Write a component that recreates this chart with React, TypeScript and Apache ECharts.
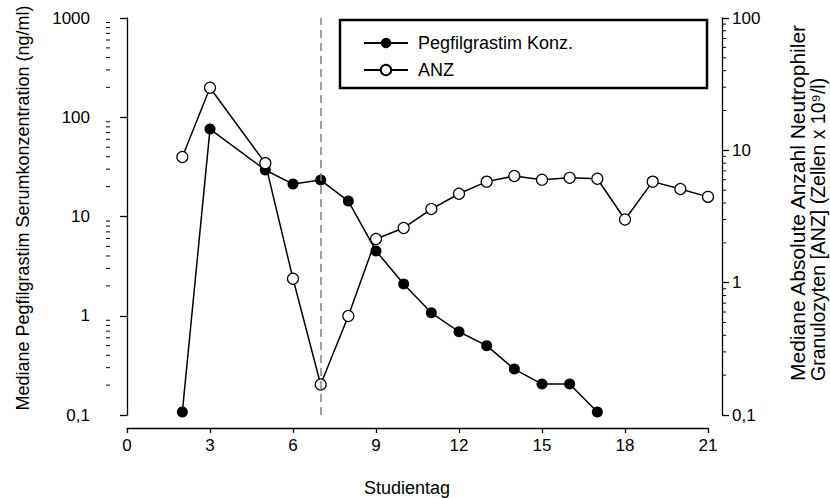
import React, { useEffect, useRef } from "react";
import * as echarts from "echarts";

// ---- data ----
const pegDays = [2, 3, 5, 6, 7, 8, 9, 10, 11, 12, 13, 14, 15, 16, 17];
const pegValues = [0.107, 76, 29.4, 21.2, 23.3, 14.3, 4.5, 2.09, 1.07, 0.69, 0.5, 0.29, 0.205, 0.205, 0.107];

const anzDays = [2, 3, 5, 6, 7, 8, 9, 10, 11, 12, 13, 14, 15, 16, 17, 18, 19, 20, 21];
const anzValues = [8.9, 29.7, 8.0, 1.07, 0.17, 0.56, 2.14, 2.59, 3.6, 4.7, 5.8, 6.4, 6.0, 6.2, 6.1, 3.0, 5.8, 5.1, 4.45];

const markerDay = 7;

const leftTickValues = [0.1, 1, 10, 100, 1000];
const leftTickLabels = ["0,1", "1", "10", "100", "1000"];
const rightTickValues = [0.1, 1, 10, 100];
const rightTickLabels = ["0,1", "1", "10", "100"];
const leftDecades = [0.1, 1, 10, 100];
const rightDecades = [0.1, 1, 10];
const minorMultipliers = [2, 3, 4, 5, 6, 7, 8, 9];

const seriesNames = ["Pegfilgrastim Konz.", "ANZ"];
const leftTitle = "Mediane Pegfilgrastim Serumkonzentration (ng/ml)";
const rightTitle1 = "Mediane Absolute Anzahl Neutrophiler";
const rightTitle2 = "Granulozyten [ANZ] (Zellen x 10\u2079/l)";
const xTitle = "Studientag";

const FONT = "'Liberation Sans', Arial, sans-serif";

function labelFor(values: number[], labels: string[]) {
  return (v: number) => {
    let best = 0;
    let bd = Infinity;
    values.forEach((t, i) => {
      const d = Math.abs(Math.log10(v) - Math.log10(t));
      if (d < bd) {
        bd = d;
        best = i;
      }
    });
    return labels[best];
  };
}

const minorOf = (decades: number[]) =>
  decades.flatMap((d) => minorMultipliers.map((m) => [0, +(d * m).toPrecision(3)]));

export default function App() {
  const ref = useRef<HTMLDivElement>(null);
  useEffect(() => {
    if (!ref.current) return;
    const chart = echarts.init(ref.current, undefined, { renderer: "svg" });
    const LEFT_OFF = 17;
    const RIGHT_OFF = 14;
    const legendBase = {
      orient: "vertical",
      left: 358,
      itemWidth: 44,
      itemHeight: 13,
      textStyle: { fontSize: 18, color: "#000", fontFamily: FONT, padding: [0, 0, 0, 5] },
      selectedMode: false,
    };
    const option: any = {
      animation: false,
      backgroundColor: "#fff",
      grid: { left: 127, right: 122, top: 18, bottom: 83 },
      legend: [
        { ...legendBase, data: [seriesNames[0]], top: 29 },
        { ...legendBase, data: [seriesNames[1]], top: 56 },
      ],
      xAxis: {
        type: "value",
        min: 0,
        max: 21,
        interval: 3,
        offset: 13,
        axisLine: { show: true, lineStyle: { color: "#000", width: 1.3 } },
        axisTick: { show: true, length: 5, lineStyle: { color: "#000", width: 1.3 } },
        axisLabel: { fontSize: 17, color: "#000", fontFamily: FONT, margin: 9 },
        splitLine: { show: false },
      },
      yAxis: [
        {
          type: "log",
          logBase: 10,
          min: 0.1,
          max: 1000,
          position: "left",
          offset: LEFT_OFF,
          axisLine: { show: true, lineStyle: { color: "#000", width: 1.3 } },
          axisTick: { show: true, length: 7, lineStyle: { color: "#000", width: 1.3 } },
          axisLabel: {
            fontSize: 17,
            color: "#000",
            fontFamily: FONT,
            margin: 20,
            formatter: labelFor(leftTickValues, leftTickLabels),
          },
          splitLine: { show: false },
        },
        {
          type: "log",
          logBase: 10,
          min: 0.1,
          max: 100,
          position: "right",
          offset: RIGHT_OFF,
          axisLine: { show: true, lineStyle: { color: "#000", width: 1.3 } },
          axisTick: { show: true, length: 7, lineStyle: { color: "#000", width: 1.3 } },
          axisLabel: {
            fontSize: 17,
            color: "#000",
            fontFamily: FONT,
            margin: 10,
            formatter: labelFor(rightTickValues, rightTickLabels),
          },
          splitLine: { show: false },
        },
      ],
      graphic: [
        {
          type: "rect",
          shape: { x: 340, y: 20, width: 367, height: 68 },
          style: { fill: "none", stroke: "#000", lineWidth: 2.5 },
          z: 10,
        },
        {
          type: "text",
          x: 23,
          y: 208,
          rotation: Math.PI / 2,
          style: {
            text: leftTitle,
            fontSize: 18,
            fontFamily: FONT,
            fill: "#000",
            textAlign: "center",
            textVerticalAlign: "middle",
          },
        },
        {
          type: "text",
          x: 797,
          y: 381,
          rotation: Math.PI / 2,
          style: {
            text: rightTitle1,
            fontSize: 21,
            fontFamily: FONT,
            fill: "#000",
            textAlign: "left",
            textVerticalAlign: "middle",
          },
        },
        {
          type: "text",
          x: 818,
          y: 381,
          rotation: Math.PI / 2,
          style: {
            text: rightTitle2,
            fontSize: 19.5,
            fontFamily: FONT,
            fill: "#000",
            textAlign: "left",
            textVerticalAlign: "middle",
          },
        },
        {
          type: "text",
          x: 407,
          y: 488,
          style: {
            text: xTitle,
            fontSize: 18,
            fontFamily: FONT,
            fill: "#000",
            textAlign: "center",
            textVerticalAlign: "middle",
          },
        },
      ],
      series: [
        {
          name: seriesNames[0],
          type: "line",
          yAxisIndex: 0,
          data: pegDays.map((d, i) => [d, pegValues[i]]),
          symbol: "circle",
          symbolSize: 11,
          itemStyle: { color: "#000" },
          lineStyle: { color: "#000", width: 1.5 },
          z: 3,
          markLine: {
            silent: true,
            symbol: ["none", "none"],
            label: { show: false },
            lineStyle: { type: [8, 5], color: "#808080", width: 1.5 },
            data: [{ xAxis: markerDay }],
          },
        },
        {
          name: seriesNames[1],
          type: "line",
          yAxisIndex: 1,
          data: anzDays.map((d, i) => [d, anzValues[i]]),
          symbol: "circle",
          symbolSize: 11,
          itemStyle: { color: "#fff", borderColor: "#000", borderWidth: 1.2 },
          lineStyle: { color: "#000", width: 1.5 },
          z: 4,
        },
        {
          type: "custom",
          yAxisIndex: 0,
          silent: true,
          clip: false,
          data: minorOf(leftDecades),
          renderItem: (_p: any, api: any) => {
            const pt = api.coord([api.value(0), api.value(1)]);
            const x = pt[0] - LEFT_OFF;
            return {
              type: "line",
              shape: { x1: x, y1: pt[1], x2: x - 4, y2: pt[1] },
              style: { stroke: "#000", lineWidth: 1 },
            };
          },
        },
        {
          type: "custom",
          yAxisIndex: 1,
          silent: true,
          clip: false,
          data: minorOf(rightDecades).map((p) => [21, p[1]]),
          renderItem: (_p: any, api: any) => {
            const pt = api.coord([api.value(0), api.value(1)]);
            const x = pt[0] + RIGHT_OFF;
            return {
              type: "line",
              shape: { x1: x, y1: pt[1], x2: x + 4, y2: pt[1] },
              style: { stroke: "#000", lineWidth: 1 },
            };
          },
        },
      ],
    };
    chart.setOption(option);
    return () => chart.dispose();
  }, []);
  return (
    <div
      ref={ref}
      style={{ position: "fixed", left: 0, top: 0, width: 830, height: 498, background: "#fff" }}
    />
  );
}
